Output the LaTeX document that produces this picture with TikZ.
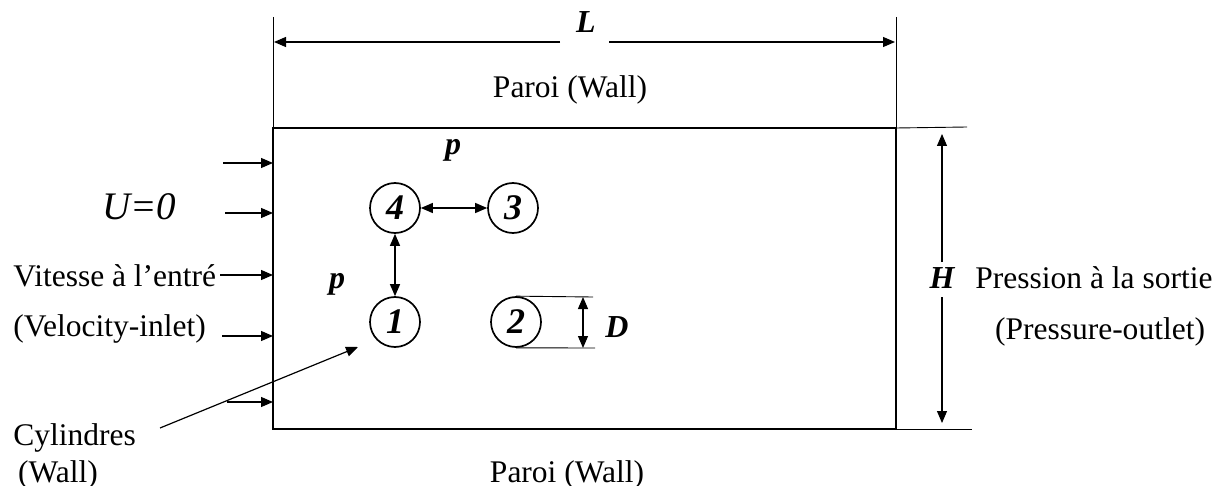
\documentclass[tikz,border=0pt]{standalone}
\usepackage{fontspec}
\setmainfont{Liberation Serif}
\usetikzlibrary{arrows.meta}
\begin{document}
\begin{tikzpicture}[x=0.5pt,y=-0.5pt,
  txt/.style={font=\fontsize{15.75}{18}\selectfont, inner sep=0pt},
  sym/.style={font=\fontsize{16}{18}\selectfont\bfseries\itshape, inner sep=0pt},
  cyl/.style={circle, draw, line width=0.85pt, minimum size=25pt, inner sep=0pt, font=\fontsize{18}{20}\selectfont\bfseries\itshape},
  ext/.style={line width=0.45pt},
  arr/.style={-{Triangle[length=6pt,width=5pt]}, line width=0.6pt},
  darr/.style={{Triangle[length=6pt,width=5pt]}-{Triangle[length=6pt,width=5pt]}, line width=0.6pt}]
\useasboundingbox (0,0) rectangle (1225,486);
% domain
\coordinate (TL) at (273,128);
\coordinate (TR) at (896,128);
\coordinate (BL) at (273,429);
\coordinate (BR) at (896,429);
\draw[line width=1.4pt] (TL) -- (TR) -- (BR) -- (BL) -- cycle;
% L dimension
\coordinate (LT1) at (273,17);
\coordinate (LT2) at (896,17);
\draw[ext] (LT1) -- (TL);
\draw[ext] (LT2) -- (TR);
\node[sym, anchor=base] (L) at (586,33) {L};
\coordinate (La) at (560,42);
\coordinate (Lb) at (609,42);
\coordinate (Lc) at (274,42);
\coordinate (Ld) at (895,42);
\draw[arr] (La) -- (Lc);
\draw[arr] (Lb) -- (Ld);
\node[txt, anchor=base] (wtop) at (570,98) {Paroi (Wall)};
\node[txt, anchor=base] (wbot) at (567,482) {Paroi (Wall)};
% H dimension
\coordinate (HT) at (967,127);
\coordinate (HB) at (972,429);
\draw[ext] (TR) -- (HT);
\draw[ext] (BR) -- (HB);
\node[sym, anchor=base] (H) at (942,288) {H};
\coordinate (Ha) at (942,262);
\coordinate (Hb) at (942,297);
\coordinate (Hc) at (942,134);
\coordinate (Hd) at (942,423);
\draw[arr] (Ha) -- (Hc);
\draw[arr] (Hb) -- (Hd);
\node[txt, anchor=base west] (pout1) at (975,288) {Pression à la sortie};
\node[txt, anchor=base] (pout2) at (1100,339) {(Pressure-outlet)};
% cylinders
\node[cyl] (c4) at (395,208) {4};
\node[cyl] (c3) at (513,208) {3};
\node[cyl] (c1) at (395,322) {1};
\node[cyl] (c2) at (516,322) {2};
\draw[darr] (c4.east) -- (c3.west);
\draw[darr] (c4.south) -- (c1.north);
\node[sym, anchor=base] (p1) at (453,155) {p};
\node[sym, anchor=base] (p2) at (337,288) {p};
% D dimension
\coordinate (Dt) at (593,297);
\coordinate (Db) at (595,348);
\draw[ext] (c2.north) -- (Dt);
\draw[ext] (c2.south) -- (Db);
\coordinate (Da) at (583,297);
\coordinate (Dc) at (583,348);
\draw[darr] (Da) -- (Dc);
\node[sym, anchor=base] (D) at (617,337) {D};
% inlet
\node[font=\fontsize{19.5}{22}\selectfont\itshape, inner sep=0pt, anchor=base] (U) at (139,220) {U=0};
\node[txt, anchor=base west] (vin1) at (13,286) {Vitesse à l’entré};
\node[txt, anchor=base west] (vin2) at (13,336) {(Velocity-inlet)};
\foreach \ys/\xs [count=\i] in {163/223,213/225,275/220,336/222,402/227}{
  \coordinate (is\i) at (\xs,\ys);
  \coordinate (it\i) at (273,\ys);
  \draw[arr] (is\i) -- (it\i);
}
% cylinders label
\node[txt, anchor=base west] (cyltxt) at (13,445) {Cylindres};
\node[txt, anchor=base] (cylwall) at (58,482) {(Wall)};
\coordinate (cps) at (160,428);
\coordinate (cpe) at (358,347);
\draw[arr] (cps) -- (cpe);
\end{tikzpicture}
\end{document}
